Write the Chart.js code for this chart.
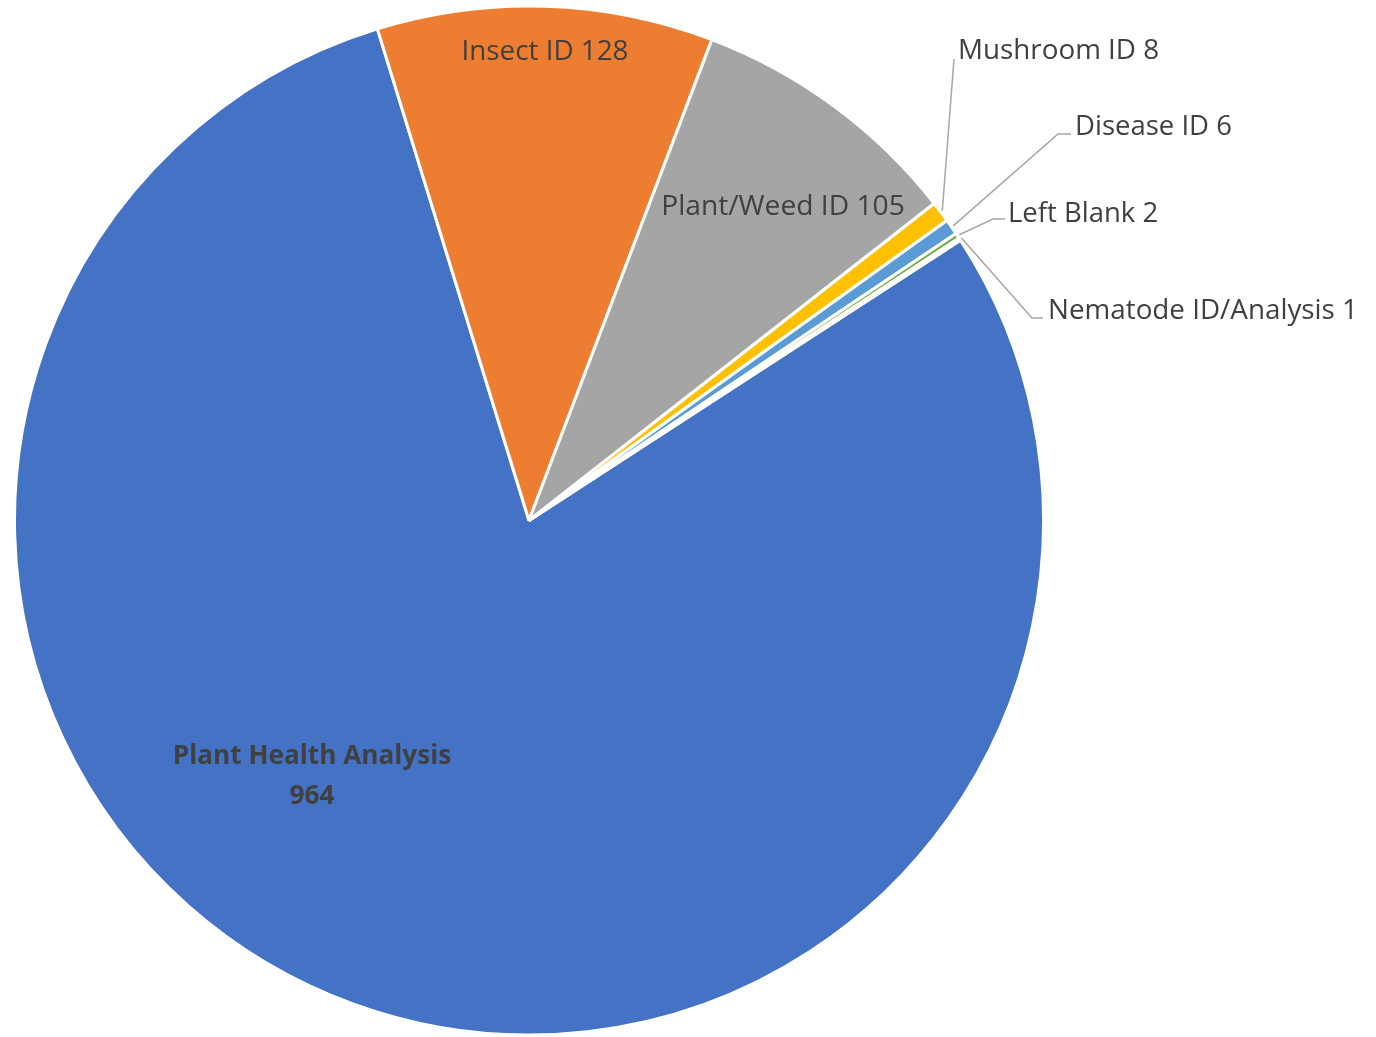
<!DOCTYPE html>
<html>
<head>
<meta charset="utf-8">
<script src="https://cdn.jsdelivr.net/npm/chart.js@4"></script>
<style>
  html, body { margin: 0; padding: 0; background: #fff; }
  #pie { display: block; }
</style>
</head>
<body>
<canvas id="pie" width="1376" height="1037"></canvas>
<script>
// data
const categories = [
  'Plant Health Analysis',
  'Insect ID',
  'Plant/Weed ID',
  'Mushroom ID',
  'Disease ID',
  'Left Blank',
  'Nematode ID/Analysis'
];
const counts = [964, 128, 105, 8, 6, 2, 1];
const colors = ['#4472C4', '#ED7D31', '#A5A5A5', '#FFC000', '#5B9BD5', '#70AD47', '#264478'];

// label placement (x, y = text anchor; w = width the text should fill)
const labelLayout = [
  { align: 'center', x: 312, y: 757, w: 279, bold: true, twoLines: true },
  { align: 'center', x: 545, y: 52, w: 167 },
  { align: 'center', x: 783, y: 207, w: 244 },
  { align: 'left', x: 958, y: 51, w: 201, line: [[954, 59]] },
  { align: 'left', x: 1075, y: 127, w: 157, line: [[1058, 134], [1071, 134]] },
  { align: 'left', x: 1008, y: 214, w: 150, line: [[993, 219], [1005, 219]] },
  { align: 'left', x: 1048, y: 311, w: 310, line: [[1032, 318], [1043, 318]] }
];

const pieLabels = {
  id: 'pieLabels',
  afterDatasetsDraw(chart) {
    const ctx = chart.ctx;
    const arcs = chart.getDatasetMeta(0).data;
    ctx.save();
    arcs.forEach((arc, i) => {
      const lay = labelLayout[i];
      const text = categories[i] + ' ' + counts[i];
      const weight = lay.bold ? 'bold ' : '';
      // leader line from outer edge of slice
      if (lay.line) {
        const mid = (arc.startAngle + arc.endAngle) / 2;
        const r = arc.outerRadius + 2;
        ctx.beginPath();
        ctx.moveTo(arc.x + Math.cos(mid) * r, arc.y + Math.sin(mid) * r);
        lay.line.forEach(p => ctx.lineTo(p[0], p[1]));
        ctx.strokeStyle = '#A6A6A6';
        ctx.lineWidth = 1.5;
        ctx.stroke();
      }
      ctx.fillStyle = '#404040';
      ctx.textBaseline = 'middle';
      ctx.textAlign = lay.align;
      const first = lay.twoLines ? categories[i] : text;
      ctx.font = weight + '30px "Open Sans"';
      let size = 30 * lay.w / ctx.measureText(first).width;
      ctx.font = weight + size.toFixed(1) + 'px "Open Sans"';
      ctx.fillText(first, lay.x, lay.y);
      if (lay.twoLines) {
        ctx.fillText(String(counts[i]), lay.x, lay.y + 40);
      }
    });
    ctx.restore();
  }
};

const config = {
  type: 'pie',
  data: {
    labels: categories,
    datasets: [{
      data: counts,
      backgroundColor: colors,
      borderColor: '#ffffff',
      borderWidth: 3
    }]
  },
  options: {
    responsive: false,
    animation: false,
    devicePixelRatio: 1,
    // Plant Health slice starts just past the small slices, at about 2 o'clock
    rotation: 57,
    layout: {
      padding: { left: 13, right: 331, top: 4, bottom: 0 }
    },
    plugins: {
      legend: { display: false },
      tooltip: { enabled: false }
    }
  },
  plugins: [pieLabels]
};

const myPie = new Chart(document.getElementById('pie'), config);
</script>
</body>
</html>
